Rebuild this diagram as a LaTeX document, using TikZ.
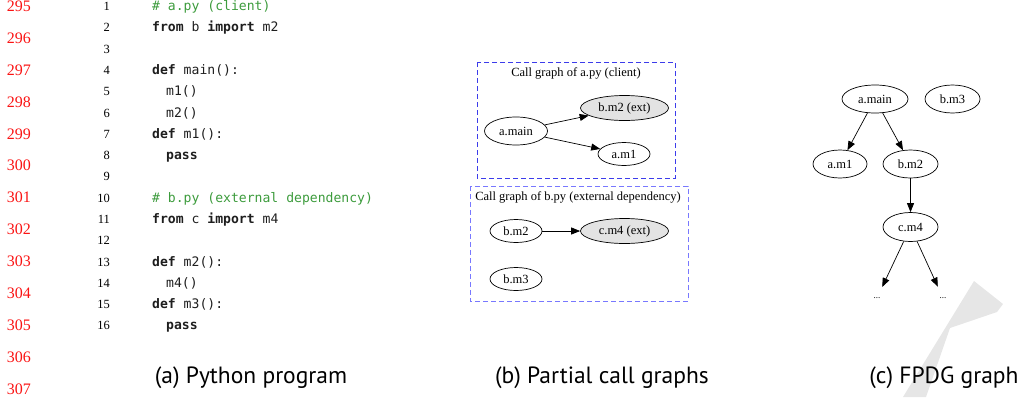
\documentclass[tikz,border=0pt]{standalone}
\usepackage{fontspec}
\setmainfont{Liberation Serif}
\setmonofont{DejaVu Sans Mono}
\newfontfamily\capfont{PT Sans}
\usetikzlibrary{shapes.geometric,arrows.meta}
\definecolor{codegreen}{RGB}{60,155,60}
\definecolor{codetext}{RGB}{30,30,30}
\definecolor{boxblueA}{RGB}{60,60,235}
\definecolor{boxblueB}{RGB}{120,120,255}
\definecolor{extfill}{RGB}{227,227,227}
\definecolor{wmgray}{RGB}{230,230,230}
\definecolor{lnred}{RGB}{250,20,20}
\tikzset{
  rnum/.style={anchor=base east,inner sep=0,text=lnred,font=\fontsize{16}{18}\selectfont},
  lnum/.style={anchor=base east,inner sep=0,font=\fontsize{12.5}{14}\selectfont},
  codeline/.style={anchor=base west,inner sep=0,text=codetext,font=\fontsize{13.1}{15}\selectfont\ttfamily},
  comment/.style={codeline,text=codegreen},
  fn/.style={ellipse,draw,line width=0.7pt,inner sep=0,font=\fontsize{12.5}{14}\selectfont},
  ext/.style={fn,fill=extfill},
  cgboxA/.style={draw=boxblueA,line width=1pt,dash pattern=on 5pt off 3pt},
  cgboxB/.style={draw=boxblueB,line width=1pt,dash pattern=on 5pt off 3pt},
  cgtitle/.style={inner sep=0,font=\fontsize{12.5}{14}\selectfont},
  arr/.style={-{Triangle[length=9pt,width=7pt]},line width=0.7pt},
  dotsnode/.style={inner sep=0,minimum height=46pt,minimum width=10pt,font=\fontsize{9}{10}\selectfont},
  caption/.style={anchor=base,inner sep=0,font=\fontsize{23.5}{26}\selectfont\capfont},
}
\begin{document}
\begin{tikzpicture}[x=1pt,y=-1pt]
\useasboundingbox (0,0) rectangle (1022,397);
% watermark fragment
\fill[wmgray] (903,397) -- (974,281) -- (1003,304) -- (997,312) -- (950,328) -- (926,397) -- cycle;
% red page line numbers
\foreach \n [count=\i from 0] in {295,...,307}
  \node[rnum] (r\n) at (31,{6+\i*31.9+5.4}) {\n};
% code line numbers
\foreach \k in {1,...,16}
  \node[lnum] (l\k) at (110,{6.5+(\k-1)*21.28+4.2}) {\k};
% code
\node[comment]  (c1)  at (152,{6.5+0*21.28+4.2})  {\# a.py (client)};
\node[codeline] (c2)  at (152,{6.5+1*21.28+4.2})  {\textbf{from} b \textbf{import} m2};
\node[codeline] (c4)  at (152,{6.5+3*21.28+4.2})  {\textbf{def} main():};
\node[codeline] (c5)  at (166,{6.5+4*21.28+4.2})  {m1()};
\node[codeline] (c6)  at (166,{6.5+5*21.28+4.2})  {m2()};
\node[codeline] (c7)  at (152,{6.5+6*21.28+4.2})  {\textbf{def} m1():};
\node[codeline] (c8)  at (166,{6.5+7*21.28+4.2})  {\textbf{pass}};
\node[comment]  (c10) at (152,{6.5+9*21.28+4.2})  {\# b.py (external dependency)};
\node[codeline] (c11) at (152,{6.5+10*21.28+4.2}) {\textbf{from} c \textbf{import} m4};
\node[codeline] (c13) at (152,{6.5+12*21.28+4.2}) {\textbf{def} m2():};
\node[codeline] (c14) at (166,{6.5+13*21.28+4.2}) {m4()};
\node[codeline] (c15) at (152,{6.5+14*21.28+4.2}) {\textbf{def} m3():};
\node[codeline] (c16) at (166,{6.5+15*21.28+4.2}) {\textbf{pass}};
% (b) partial call graphs
\draw[cgboxA] (477,62) rectangle (675,178);
\node[cgtitle] (t1) at (576,73) {Call graph of a.py (client)};
\node[fn,minimum width=63pt,minimum height=28pt] (amain) at (516,131) {a.main};
\node[ext,minimum width=88pt,minimum height=25pt] (bm2ext) at (624.5,108) {b.m2 (ext)};
\node[fn,minimum width=52pt,minimum height=23pt] (am1) at (624,154) {a.m1};
\draw[arr] (amain) -- (bm2ext);
\draw[arr] (amain) -- (am1);
\draw[cgboxB] (470,186) rectangle (688,301);
\node[cgtitle] (t2) at (578,197) {Call graph of b.py (external dependency)};
\node[fn,minimum width=52pt,minimum height=23pt] (bm2) at (516,231) {b.m2};
\node[ext,minimum width=88pt,minimum height=25pt] (cm4ext) at (624.5,231) {c.m4 (ext)};
\node[fn,minimum width=52pt,minimum height=23pt] (bm3) at (516,279) {b.m3};
\draw[arr] (bm2) -- (cm4ext);
% (c) FPDG graph
\node[fn,minimum width=66pt,minimum height=28pt] (gmain) at (875,99) {a.main};
\node[fn,minimum width=55pt,minimum height=28pt] (gm3) at (952.5,99) {b.m3};
\node[fn,minimum width=54pt,minimum height=28pt] (gm1) at (840,164) {a.m1};
\node[fn,minimum width=55pt,minimum height=28pt] (gm2) at (910.5,164) {b.m2};
\node[fn,minimum width=55pt,minimum height=29pt] (gm4) at (910.5,227) {c.m4};
\node[dotsnode] (d1) at (877,298) {...};
\node[dotsnode] (d2) at (943,298) {...};
\draw[arr] (gmain) -- (gm1);
\draw[arr] (gmain) -- (gm2);
\draw[arr] (gm2) -- (gm4);
\draw[arr] (gm4) -- (d1);
\draw[arr] (gm4) -- (d2);
% captions
\node[caption] (capa) at (251,383) {(a) Python program};
\node[caption] (capb) at (602,383) {(b) Partial call graphs};
\node[caption] (capc) at (944,383) {(c) FPDG graph};
\end{tikzpicture}
\end{document}
